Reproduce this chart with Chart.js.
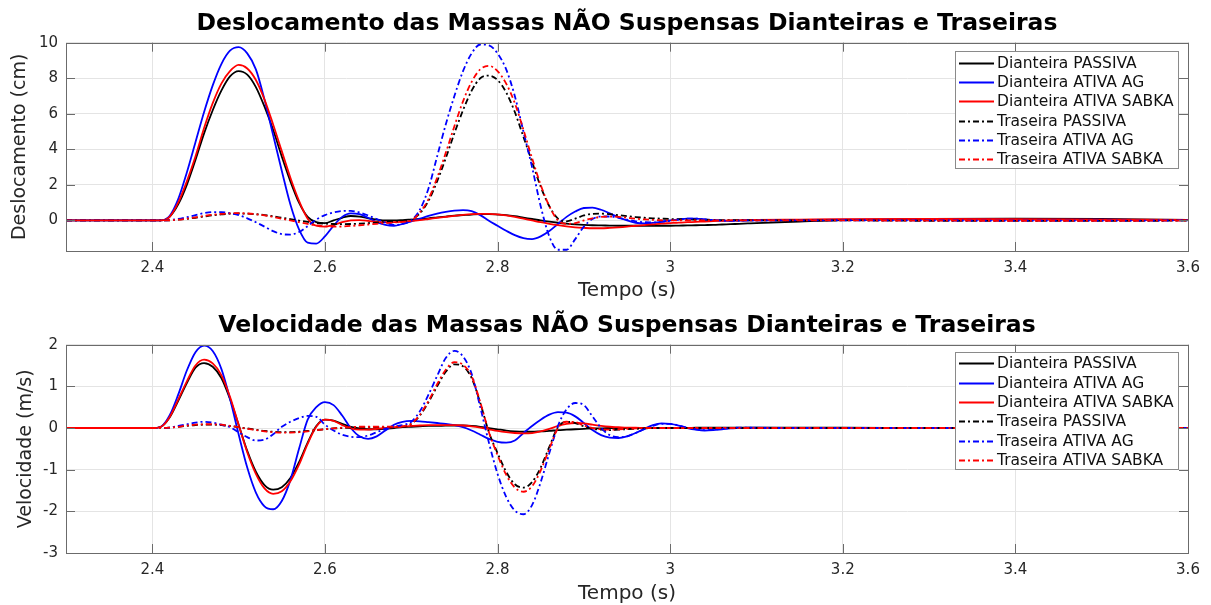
<!DOCTYPE html>
<html lang="pt-BR">
<head>
    <meta charset="utf-8">
    <title>Massas NÃO Suspensas</title>
    <script src="https://cdn.jsdelivr.net/npm/chart.js@4.4.1/dist/chart.umd.min.js"></script>
    <style>
        body {
            margin: 0;
            background: #ffffff;
        }

        .painel {
            position: relative;
            width: 1211px;
        }

        #topo { height: 300px; }
        #baixo { height: 305px; }
    </style>
</head>
<body>
    <div class="painel" id="topo"><canvas id="grafDesloc"></canvas></div>
    <div class="painel" id="baixo"><canvas id="grafVeloc"></canvas></div>

    <script>
        // tempo (s)
        const tempo = [2.30,
            2.40, 2.41, 2.42, 2.43, 2.44, 2.45, 2.46, 2.47, 2.48, 2.49,
            2.50, 2.51, 2.52, 2.53, 2.54, 2.55, 2.56, 2.57, 2.58, 2.59,
            2.60, 2.61, 2.62, 2.63, 2.64, 2.65, 2.66, 2.67, 2.68, 2.69,
            2.70, 2.71, 2.72, 2.73, 2.74, 2.75, 2.76, 2.77, 2.78, 2.79,
            2.80, 2.81, 2.82, 2.83, 2.84, 2.85, 2.86, 2.87, 2.88, 2.89,
            2.90, 2.91, 2.92, 2.93, 2.94, 2.95, 2.96, 2.97, 2.98, 2.99,
            3.00, 3.01, 3.02, 3.03, 3.04, 3.05, 3.06, 3.07, 3.08, 3.09,
            3.10, 3.15, 3.20, 3.30, 3.40, 3.50, 3.60];

        // deslocamento (cm)
        const desDianteiraPassiva = [0,
            0, 0, 0.2, 0.9, 2.0, 3.4, 4.9, 6.2, 7.3, 8.1,
            8.4, 8.2, 7.5, 6.4, 5.1, 3.6, 2.2, 1.0, 0.2, -0.1,
            -0.15, 0.0, 0.15, 0.25, 0.22, 0.12, 0.05, 0.0, 0.0, 0.02,
            0.05, 0.08, 0.12, 0.17, 0.22, 0.27, 0.3, 0.33, 0.35, 0.35,
            0.33, 0.3, 0.24, 0.16, 0.08, 0.0, -0.07, -0.13, -0.18, -0.22,
            -0.25, -0.27, -0.28, -0.29, -0.3, -0.3, -0.3, -0.3, -0.3, -0.3,
            -0.3, -0.29, -0.28, -0.27, -0.26, -0.25, -0.23, -0.21, -0.19, -0.17,
            -0.15, -0.06, 0.02, 0.08, 0.1, 0.08, 0.03];
        const desDianteiraAG = [0,
            0, 0, 0.25, 1.2, 2.7, 4.4, 6.1, 7.6, 8.8, 9.55,
            9.75, 9.4, 8.5, 6.8, 4.8, 2.8, 0.9, -0.5, -1.25, -1.3,
            -0.9, -0.3, 0.2, 0.4, 0.35, 0.15, -0.1, -0.25, -0.3, -0.2,
            -0.05, 0.1, 0.25, 0.38, 0.48, 0.55, 0.58, 0.52, 0.3, -0.02,
            -0.3, -0.58, -0.83, -1.0, -1.05, -0.9, -0.6, -0.2, 0.2, 0.5,
            0.7, 0.72, 0.6, 0.4, 0.18, 0.0, -0.13, -0.17, -0.14, -0.07,
            0.0, 0.06, 0.1, 0.1, 0.06, 0.02, -0.01, -0.02, -0.01, 0.0,
            0.01, 0.03, 0.05, 0.06, 0.05, 0.04, 0.02];
        const desDianteiraSabka = [0,
            0, 0, 0.2, 1.0, 2.2, 3.6, 5.2, 6.6, 7.7, 8.4,
            8.75, 8.55, 7.9, 6.8, 5.4, 3.9, 2.4, 1.1, 0.1, -0.3,
            -0.35, -0.25, -0.1, 0.0, 0.02, -0.02, -0.08, -0.1, -0.1, -0.07,
            -0.03, 0.02, 0.08, 0.14, 0.2, 0.26, 0.31, 0.35, 0.37, 0.37,
            0.34, 0.28, 0.2, 0.1, 0.0, -0.1, -0.19, -0.27, -0.34, -0.39,
            -0.42, -0.44, -0.44, -0.42, -0.39, -0.35, -0.3, -0.26, -0.22, -0.18,
            -0.15, -0.12, -0.1, -0.08, -0.06, -0.04, -0.02, 0.0, 0.01, 0.02,
            0.03, 0.05, 0.07, 0.08, 0.07, 0.05, 0.03];
        const desTraseiraPassiva = [0,
            0, 0, 0.01, 0.04, 0.09, 0.15, 0.22, 0.29, 0.34, 0.38,
            0.39, 0.38, 0.35, 0.3, 0.23, 0.15, 0.07, -0.01, -0.08, -0.14,
            -0.18, -0.2, -0.21, -0.2, -0.18, -0.15, -0.12, -0.09, -0.06, -0.03,
            0.05, 0.4, 1.1, 2.2, 3.5, 4.9, 6.2, 7.3, 8.0, 8.15,
            7.9, 7.2, 6.1, 4.7, 3.3, 1.9, 0.8, 0.1, -0.05, 0.1,
            0.28, 0.37, 0.38, 0.35, 0.3, 0.24, 0.19, 0.15, 0.12, 0.1,
            0.08, 0.07, 0.06, 0.05, 0.04, 0.03, 0.02, 0.02, 0.01, 0.01,
            0.0, 0.0, 0.0, -0.02, -0.03, -0.03, -0.01];
        const desTraseiraAG = [0,
            0, 0, 0.02, 0.08, 0.18, 0.3, 0.41, 0.47, 0.47, 0.4,
            0.3, 0.12, -0.1, -0.35, -0.6, -0.77, -0.8, -0.65, -0.32, 0.05,
            0.3, 0.45, 0.53, 0.54, 0.45, 0.28, 0.08, -0.12, -0.25, -0.2,
            0.0, 0.6, 1.8, 3.6, 5.4, 7.0, 8.4, 9.4, 9.9, 9.85,
            9.4, 8.5, 7.0, 5.0, 3.0, 0.8, -0.9, -1.65, -1.65, -1.05,
            -0.35, 0.08, 0.22, 0.22, 0.15, 0.05, -0.05, -0.1, -0.11, -0.08,
            -0.02, 0.05, 0.1, 0.1, 0.06, 0.02, -0.01, -0.02, -0.01, 0.0,
            0.0, 0.0, 0.01, 0.0, -0.01, -0.01, 0.0];
        const desTraseiraSabka = [0,
            0, 0, 0.01, 0.04, 0.1, 0.17, 0.25, 0.32, 0.37, 0.4,
            0.41, 0.39, 0.35, 0.28, 0.2, 0.1, 0.0, -0.1, -0.2, -0.28,
            -0.33, -0.35, -0.34, -0.31, -0.27, -0.23, -0.19, -0.15, -0.12, -0.08,
            0.0, 0.45, 1.2, 2.4, 3.8, 5.3, 6.7, 7.8, 8.5, 8.7,
            8.4, 7.7, 6.6, 5.1, 3.5, 2.0, 0.8, 0.0, -0.2, -0.15,
            0.0, 0.12, 0.2, 0.22, 0.2, 0.15, 0.1, 0.06, 0.03, 0.01,
            0, 0, 0, 0, 0, 0, 0, 0, 0, 0,
            0, 0, 0, -0.01, -0.02, -0.02, -0.01];

        // velocidade (m/s)
        const velDianteiraPassiva = [0,
            0, 0.03, 0.25, 0.65, 1.08, 1.45, 1.56, 1.47, 1.2, 0.7,
            0.08, -0.55, -1.05, -1.37, -1.48, -1.42, -1.2, -0.82, -0.35, 0.05,
            0.2, 0.18, 0.1, 0.03, -0.01, -0.03, -0.03, -0.02, 0.0, 0.02,
            0.03, 0.04, 0.05, 0.05, 0.06, 0.06, 0.06, 0.05, 0.03, 0.0,
            -0.03, -0.06, -0.08, -0.09, -0.09, -0.08, -0.07, -0.05, -0.04, -0.03,
            -0.02, -0.01, -0.01, 0, 0, 0, 0, 0, 0, 0,
            0, 0, 0, 0.01, 0.01, 0.01, 0.01, 0.01, 0.01, 0.01,
            0.01, 0.01, 0.01, 0, 0, 0, 0];
        const velDianteiraAG = [0,
            0, 0.03, 0.3, 0.8, 1.38, 1.82, 1.98, 1.85, 1.42, 0.7,
            -0.15, -0.95, -1.55, -1.88, -1.95, -1.75, -1.25, -0.5, 0.2, 0.5,
            0.62, 0.55, 0.3, 0.0, -0.2, -0.26, -0.2, -0.06, 0.08, 0.15,
            0.17, 0.16, 0.14, 0.12, 0.1, 0.07, 0.02, -0.06, -0.16, -0.26,
            -0.33, -0.35, -0.3, -0.12, 0.05, 0.2, 0.32, 0.38, 0.37, 0.28,
            0.12, -0.05, -0.17, -0.23, -0.24, -0.2, -0.12, -0.02, 0.07, 0.11,
            0.1, 0.06, 0.0, -0.04, -0.06, -0.05, -0.03, -0.01, 0.0, 0.01,
            0.01, 0, 0, 0, 0, 0, 0];
        const velDianteiraSabka = [0,
            0, 0.03, 0.26, 0.68, 1.12, 1.5, 1.64, 1.55, 1.27, 0.75,
            0.08, -0.58, -1.1, -1.45, -1.58, -1.52, -1.28, -0.88, -0.38, 0.03,
            0.2, 0.17, 0.07, -0.01, -0.04, -0.04, -0.02, 0.0, 0.02, 0.03,
            0.05, 0.06, 0.07, 0.07, 0.07, 0.07, 0.06, 0.04, 0.01, -0.03,
            -0.07, -0.1, -0.12, -0.13, -0.12, -0.08, -0.02, 0.05, 0.1, 0.12,
            0.11, 0.08, 0.05, 0.03, 0.02, 0.01, 0.01, 0, 0, 0,
            0, 0, 0, 0, 0, 0, 0, 0, 0, 0,
            0, 0, 0, 0, 0, 0, 0];
        const velTraseiraPassiva = [0,
            0, 0, 0.01, 0.03, 0.05, 0.07, 0.08, 0.08, 0.07, 0.05,
            0.02, -0.01, -0.04, -0.07, -0.09, -0.1, -0.1, -0.09, -0.07, -0.05,
            -0.03, -0.01, 0.0, 0.01, 0.02, 0.02, 0.02, 0.02, 0.02, 0.03,
            0.1, 0.3, 0.62, 1.0, 1.35, 1.53, 1.48, 1.2, 0.6, -0.1,
            -0.6, -1.05, -1.35, -1.43, -1.3, -0.95, -0.45, 0.02, 0.15, 0.12,
            0.04, -0.02, -0.04, -0.05, -0.04, -0.03, -0.02, -0.01, 0, 0,
            0, 0, 0, 0, 0, 0, 0, 0, 0, 0,
            0, 0, 0, 0, 0, 0, 0];
        const velTraseiraAG = [0,
            0, 0, 0.01, 0.05, 0.09, 0.13, 0.15, 0.13, 0.08, 0.02,
            -0.1, -0.22, -0.3, -0.28, -0.15, 0.03, 0.15, 0.24, 0.29, 0.27,
            0.08, -0.06, -0.16, -0.21, -0.22, -0.18, -0.1, -0.02, 0.04, 0.07,
            0.15, 0.4, 0.8, 1.25, 1.68, 1.85, 1.72, 1.3, 0.5, -0.35,
            -1.1, -1.65, -1.98, -2.07, -1.85, -1.3, -0.6, 0.05, 0.45, 0.6,
            0.55, 0.28, 0.0, -0.17, -0.22, -0.2, -0.12, -0.03, 0.05, 0.1,
            0.1, 0.06, 0.01, -0.03, -0.05, -0.04, -0.02, 0.0, 0.01, 0.01,
            0, 0, 0, 0, 0, 0, 0];
        const velTraseiraSabka = [0,
            0, 0, 0.01, 0.03, 0.06, 0.08, 0.09, 0.09, 0.08, 0.05,
            0.02, -0.02, -0.05, -0.08, -0.1, -0.11, -0.11, -0.1, -0.08, -0.05,
            -0.03, -0.01, 0.01, 0.02, 0.03, 0.03, 0.03, 0.03, 0.03, 0.04,
            0.1, 0.32, 0.65, 1.05, 1.4, 1.58, 1.52, 1.24, 0.62, -0.1,
            -0.65, -1.12, -1.43, -1.53, -1.4, -1.02, -0.5, 0.0, 0.15, 0.14,
            0.06, 0.0, -0.03, -0.04, -0.03, -0.02, -0.01, 0, 0, 0,
            0, 0, 0, 0, 0, 0, 0, 0, 0, 0,
            0, 0, 0, 0, 0, 0, 0];

        const xTicks = [2.4, 2.6, 2.8, 3.0, 3.2, 3.4, 3.6];
        const yTicksDesloc = [0, 2, 4, 6, 8, 10];
        const yTicksVeloc = [-3, -2, -1, 0, 1, 2];
        const legendas = ["Dianteira PASSIVA", "Dianteira ATIVA AG", "Dianteira ATIVA SABKA",
            "Traseira PASSIVA", "Traseira ATIVA AG", "Traseira ATIVA SABKA"];

        const cores = ["#000000", "#0000ff", "#ff0000", "#000000", "#0000ff", "#ff0000"];
        const tracoPontilhado = [6, 3, 2, 3];
        const tracos = [[], [], [], tracoPontilhado, tracoPontilhado, tracoPontilhado];
        const FONTE = "'DejaVu Sans', sans-serif";

        // moldura fechada com marcas de escala voltadas para dentro
        const caixaEixos = {
            id: "caixaEixos",
            afterDatasetsDraw(chart) {
                const { ctx, chartArea: a } = chart;
                const x = chart.scales.x, y = chart.scales.y;
                ctx.save();
                ctx.strokeStyle = "#6b6b6b";
                ctx.lineWidth = 1;
                ctx.beginPath();
                x.ticks.forEach(t => {
                    const px = Math.round(x.getPixelForValue(t.value)) + 0.5;
                    ctx.moveTo(px, a.bottom); ctx.lineTo(px, a.bottom - 9);
                    ctx.moveTo(px, a.top); ctx.lineTo(px, a.top + 9);
                });
                y.ticks.forEach(t => {
                    const py = Math.round(y.getPixelForValue(t.value)) + 0.5;
                    ctx.moveTo(a.left, py); ctx.lineTo(a.left + 9, py);
                    ctx.moveTo(a.right, py); ctx.lineTo(a.right - 9, py);
                });
                ctx.stroke();
                ctx.strokeRect(Math.round(a.left) + 0.5, Math.round(a.top) + 0.5,
                    Math.round(a.width), Math.round(a.height));
                ctx.restore();
            }
        };

        // legenda dentro da área do gráfico, canto superior direito
        const legendaCaixa = {
            id: "legendaCaixa",
            afterDraw(chart, args, o) {
                const ctx = chart.ctx;
                ctx.save();
                ctx.fillStyle = "#ffffff";
                ctx.fillRect(o.x, o.y, o.w, o.h);
                ctx.strokeStyle = "#8a8a8a";
                ctx.lineWidth = 1;
                ctx.strokeRect(o.x + 0.5, o.y + 0.5, o.w, o.h);
                ctx.font = "15.5px " + FONTE;
                ctx.textBaseline = "middle";
                chart.data.datasets.forEach((ds, i) => {
                    const yy = Math.round(o.y + o.primeira + i * o.passo) + 0.5;
                    ctx.strokeStyle = ds.borderColor;
                    ctx.lineWidth = ds.borderWidth;
                    ctx.setLineDash(ds.borderDash);
                    ctx.beginPath();
                    ctx.moveTo(o.x + 4, yy);
                    ctx.lineTo(o.x + 39, yy);
                    ctx.stroke();
                    ctx.setLineDash([]);
                    ctx.fillStyle = "#111111";
                    ctx.fillText(ds.label, o.x + 42, yy);
                });
                ctx.restore();
            }
        };

        function criaGrafico(id, titulo, rotuloY, series, yMin, yMax, yTicks, cfg) {
            return new Chart(document.getElementById(id), {
                type: "line",
                data: {
                    datasets: series.map((vals, i) => ({
                        label: legendas[i],
                        data: tempo.map((t, k) => ({ x: t, y: vals[k] })),
                        borderColor: cores[i],
                        borderWidth: 1.8,
                        borderDash: tracos[i],
                        pointRadius: 0,
                        cubicInterpolationMode: "monotone",
                        order: series.length - i
                    }))
                },
                options: {
                    responsive: true,
                    maintainAspectRatio: false,
                    animation: false,
                    layout: { padding: { left: 0, right: 23, top: 0, bottom: 0 } },
                    plugins: {
                        legend: { display: false },
                        tooltip: { enabled: false },
                        title: {
                            display: true,
                            fullSize: false,
                            text: titulo,
                            color: "#000000",
                            font: { family: FONTE, size: 23.5, weight: "bold" },
                            padding: cfg.tituloPad
                        },
                        legendaCaixa: cfg.legenda
                    },
                    scales: {
                        x: {
                            type: "linear",
                            min: 2.3,
                            max: 3.6,
                            afterBuildTicks: s => { s.ticks = xTicks.map(v => ({ value: v })); },
                            afterFit: s => { s.height = cfg.alturaX; },
                            grid: { color: "#e4e4e4", drawTicks: false },
                            border: { display: false },
                            ticks: {
                                padding: 8,
                                color: "#262626",
                                maxRotation: 0,
                                font: { family: FONTE, size: 15 },
                                callback: v => String(v)
                            },
                            title: {
                                display: true,
                                text: "Tempo (s)",
                                color: "#262626",
                                font: { family: FONTE, size: 20, lineHeight: 0.9 },
                                padding: { top: 0, bottom: cfg.tituloXPad }
                            }
                        },
                        y: {
                            min: yMin,
                            max: yMax,
                            afterBuildTicks: s => { s.ticks = yTicks.map(v => ({ value: v })); },
                            afterFit: s => { s.width = 66; },
                            grid: { color: "#e4e4e4", drawTicks: false },
                            border: { display: false },
                            ticks: {
                                padding: 8,
                                color: "#262626",
                                font: { family: FONTE, size: 15 },
                                callback: v => String(v)
                            },
                            title: {
                                display: true,
                                text: rotuloY,
                                color: "#262626",
                                font: { family: FONTE, size: 19, lineHeight: 1.2 },
                                padding: { top: cfg.tituloYPad, bottom: 0 }
                            }
                        }
                    }
                },
                plugins: [caixaEixos, legendaCaixa]
            });
        }

        criaGrafico("grafDesloc",
            "Deslocamento das Massas NÃO Suspensas Dianteiras e Traseiras",
            "Deslocamento (cm)",
            [desDianteiraPassiva, desDianteiraAG, desDianteiraSabka,
             desTraseiraPassiva, desTraseiraAG, desTraseiraSabka],
            -1.72, 10, yTicksDesloc,
            {
                tituloPad: { top: 10, bottom: 4.5 },
                alturaX: 49,
                tituloXPad: 0,
                tituloYPad: 9,
                legenda: { x: 955, y: 51, w: 223, h: 117, primeira: 11.7, passo: 19.3 }
            });

        criaGrafico("grafVeloc",
            "Velocidade das Massas NÃO Suspensas Dianteiras e Traseiras",
            "Velocidade (m/s)",
            [velDianteiraPassiva, velDianteiraAG, velDianteiraSabka,
             velTraseiraPassiva, velTraseiraAG, velTraseiraSabka],
            -3, 2, yTicksVeloc,
            {
                tituloPad: { top: 12, bottom: 4.5 },
                alturaX: 52,
                tituloXPad: 2,
                tituloYPad: 15,
                legenda: { x: 955, y: 52, w: 223, h: 117, primeira: 11.3, passo: 19.3 }
            });
    </script>
</body>
</html>
